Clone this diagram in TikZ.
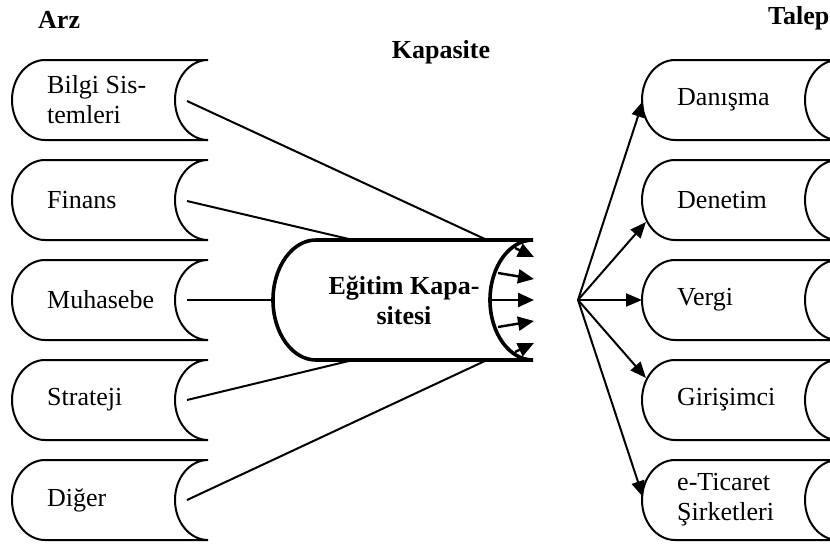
\documentclass[tikz,border=0pt]{standalone}
\usepackage{fontspec}
\setmainfont{Liberation Serif}
\usetikzlibrary{arrows.meta}
\newcommand\onlinestore[6]{% name, x0, top, w, h, a
  \pgfmathsetmacro\osR{#2+#4}\pgfmathsetmacro\osA{#2+#6}\pgfmathsetmacro\osB{#3+#5}
  \pgfmathsetmacro\osM{#3+#5/2}\pgfmathsetmacro\osY{#5/2}\pgfmathsetmacro\osC{#2+#4-#6}
  \draw (\osA,#3) -- (\osR,#3) arc[start angle=270,end angle=90,x radius=#6,y radius=\osY]
    -- (\osA,\osB) arc[start angle=90,end angle=270,x radius=#6,y radius=\osY] -- cycle;
  \coordinate (#1-in) at (#2,\osM);
  \coordinate (#1-out) at (\osC,\osM);
}
\tikzset{
  lbl/.style={font=\fontsize{26}{30}\selectfont, anchor=west, align=left, inner sep=0pt},
  ttl/.style={font=\fontsize{26}{30}\selectfont\bfseries, inner sep=0pt, anchor=base west},
  conn/.style={line width=2pt},
  arr/.style={line width=2pt, -{Triangle[length=16pt,width=13pt]}},
  inarr/.style={line width=2.4pt, -{Triangle[length=16pt,width=14pt]}},
}
\begin{document}
\begin{tikzpicture}[x=1pt,y=-1pt]
\useasboundingbox (0,0) rectangle (830,544);
% titles
\node[ttl] (arz) at (38,28) {Arz};
\node[ttl] (talep) at (768,24) {Talep};
\node[ttl, anchor=base] (kap) at (441,58) {Kapasite};
% boxes
\begin{scope}[line width=2pt]
\onlinestore{L1}{12}{60}{196}{80}{33}
\onlinestore{L2}{12}{160}{196}{80}{33}
\onlinestore{L3}{12}{260}{196}{80}{33}
\onlinestore{L4}{12}{360}{196}{80}{33}
\onlinestore{L5}{12}{460}{196}{80}{33}
\onlinestore{R1}{642}{60}{196}{80}{33}
\onlinestore{R2}{642}{160}{196}{80}{33}
\onlinestore{R3}{642}{260}{196}{80}{33}
\onlinestore{R4}{642}{360}{196}{80}{33}
\onlinestore{R5}{642}{460}{196}{80}{33}
\end{scope}
\begin{scope}[line width=3.6pt]
\onlinestore{C}{273}{240}{260}{120}{43}
\end{scope}
\node[lbl] (t1) at (47,100) {Bilgi Sis-\\temleri};
\node[lbl] (t2) at (47,200) {Finans};
\node[lbl] (t3) at (47,300) {Muhasebe};
\node[lbl] (t4) at (47,400) {Strateji};
\node[lbl] (t5) at (47,500) {Diğer};
\node[lbl] (r1) at (677,100) {Danışma};
\node[lbl] (r2) at (677,200) {Denetim};
\node[lbl] (r3) at (677,300) {Vergi};
\node[lbl] (r4) at (677,400) {Girişimci};
\node[lbl] (r5) at (677,500) {e-Ticaret\\Şirketleri};
\node[font=\fontsize{26}{30}\selectfont\bfseries, align=center, inner sep=0pt] (ct) at (404,300) {Eğitim Kapa-\\sitesi};
% connection points
\coordinate (s1) at (187,101);
\coordinate (s2) at (187,201);
\coordinate (s3) at (187,300);
\coordinate (s4) at (187,400);
\coordinate (s5) at (187,500);
\coordinate (ct1) at (487,240);
\coordinate (ct2) at (353,240);
\coordinate (cb2) at (353,360);
\coordinate (cb1) at (487,360);
\draw[conn] (s1) -- (ct1);
\draw[conn] (s2) -- (ct2);
\draw[conn] (s3) -- (C-in);
\draw[conn] (s4) -- (cb2);
\draw[conn] (s5) -- (cb1);
% inner arrows
\coordinate (a1) at (515,248); \coordinate (b1) at (534,257);
\coordinate (a2) at (498,273); \coordinate (b2) at (534,279);
\coordinate (a3) at (492,300); \coordinate (b3) at (534,300);
\coordinate (a4) at (498,327); \coordinate (b4) at (534,321);
\coordinate (a5) at (515,352); \coordinate (b5) at (534,343);
\foreach \i in {1,...,5} \draw[inarr] (a\i) -- (b\i);
% fan
\coordinate (fan) at (578,300);
\coordinate (e1) at (643,101);
\coordinate (e2) at (646,222);
\coordinate (e4) at (646,378);
\coordinate (e5) at (643,497);
\draw[arr] (fan) -- (e1);
\draw[arr] (fan) -- (e2);
\draw[arr] (fan) -- (R3-in);
\draw[arr] (fan) -- (e4);
\draw[arr] (fan) -- (e5);
\end{tikzpicture}
\end{document}
